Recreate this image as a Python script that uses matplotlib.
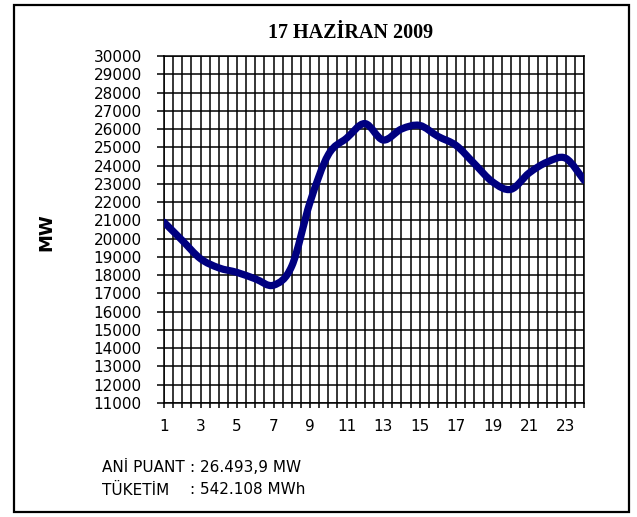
import matplotlib
matplotlib.use("Agg")
import matplotlib.pyplot as plt
import matplotlib.patches as mpatches
from matplotlib.path import Path
from matplotlib.ticker import MultipleLocator, FixedLocator
import numpy as np

# ---------------------------------------------------------------------------
# Data — hourly load, 17 June 2009
# ---------------------------------------------------------------------------
hours = list(range(1, 25))
load_mw = [20900, 19900, 18900, 18400, 18150, 17800, 17450, 18500,
           22000, 24600, 25500, 26300, 25400, 26000, 26200, 25600,
           25100, 24100, 23100, 22700, 23600, 24200, 24400, 23200]

title = "17 HAZİRAN 2009"
y_label = "MW"
peak_label, peak_value = "ANİ PUANT ", ": 26.493,9 MW"
cons_label, cons_value = "TÜKETİM", ": 542.108 MWh"

W, H = 637, 517
LINE_C = "#000080"

plt.rcParams["font.family"] = ["DejaVu Sans"]


def fx(px):
    return px / W


def fy(py):
    return 1 - py / H


def smooth_path(x, y):
    """Excel-like smoothed line, drawn as a Bezier path through the points."""
    pts = np.column_stack([x, y]).astype(float)
    n = len(pts)
    verts = [pts[0]]
    codes = [Path.MOVETO]
    for i in range(n - 1):
        p0 = pts[i - 1] if i > 0 else pts[i]
        p1 = pts[i]
        p2 = pts[i + 1]
        p3 = pts[i + 2] if i + 2 < n else pts[i + 1]
        verts += [p1 + (p2 - p0) / 6, p2 - (p3 - p1) / 6, p2]
        codes += [Path.CURVE4] * 3
    return Path(verts, codes)


fig = plt.figure(figsize=(W / 100, H / 100), dpi=100)
fig.patch.set_facecolor("white")

# outer frame
fig.add_artist(mpatches.Rectangle((fx(14), fy(512)), fx(629) - fx(14), fy(5) - fy(512),
                                  transform=fig.transFigure, fill=False,
                                  edgecolor="black", linewidth=1.6))

ax = fig.add_axes([fx(164), fy(403), fx(584) - fx(164), fy(56) - fy(403)])
ax.set_xlim(1, 24)
ax.set_ylim(11000, 30000)

ax.add_patch(mpatches.PathPatch(smooth_path(hours, load_mw), fill=False,
                                edgecolor=LINE_C, linewidth=5.2,
                                capstyle="round", joinstyle="round", zorder=3))

ax.yaxis.set_major_locator(MultipleLocator(1000))
ax.xaxis.set_major_locator(FixedLocator(hours[::2]))
ax.xaxis.set_minor_locator(MultipleLocator(0.5))
ax.grid(True, which="both", color="black", linewidth=1.1)
ax.set_axisbelow(True)
for s in ax.spines.values():
    s.set_color("black")
    s.set_linewidth(1.1)

ax.tick_params(axis="y", which="both", direction="out", length=5, width=1.1,
               pad=11, labelsize=11, colors="black")
ax.tick_params(axis="x", which="both", direction="out", length=3.6, width=1.1,
               pad=8, labelsize=11, colors="black")

fig.text(fx(351), fy(33), title, ha="center", va="center",
         fontsize=14.5, fontweight="bold", family="Liberation Serif")
fig.text(fx(46), fy(232), y_label, ha="center", va="center", rotation=90,
         fontsize=13, fontweight="bold")

# footer: the colon of the second line lines up under the first one
lbl = fig.text(fx(102), fy(467), peak_label, ha="left", va="center", fontsize=11)
renderer = fig.canvas.get_renderer()
colon_x = lbl.get_window_extent(renderer).x1 / W
fig.text(colon_x, fy(467), peak_value, ha="left", va="center", fontsize=11)
fig.text(fx(102), fy(490), cons_label, ha="left", va="center", fontsize=11)
fig.text(colon_x, fy(490), cons_value, ha="left", va="center", fontsize=11)

fig.savefig("out.png", dpi=100, facecolor="white")
